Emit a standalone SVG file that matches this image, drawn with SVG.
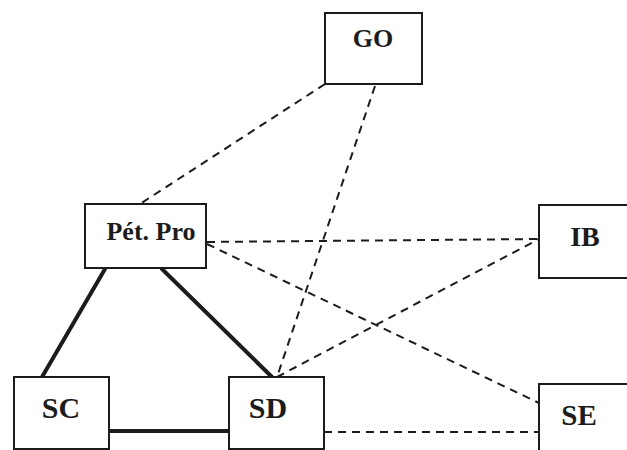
<svg xmlns="http://www.w3.org/2000/svg" width="627" height="450" viewBox="0 0 627 450">
  <style>
    .box { fill: #fff; stroke: #1c1c1c; stroke-width: 2; }
    .lbl { font-family: "Liberation Serif", "Times New Roman", serif; font-weight: bold; fill: #1c1c1c; text-anchor: middle; }
    .solid { stroke: #1c1c1c; stroke-width: 4; stroke-linecap: round; fill: none; }
    .dash { stroke: #1c1c1c; stroke-width: 2; stroke-dasharray: 8 6; fill: none; }
  </style>
  <rect width="627" height="450" fill="#fff"/>

  <g id="connectors">
    <line class="dash" x1="325" y1="84" x2="140" y2="204"/>
    <line class="dash" x1="375" y1="86" x2="277" y2="377"/>
    <line class="dash" x1="207" y1="242" x2="539" y2="239"/>
    <line class="dash" x1="207" y1="244" x2="539" y2="403"/>
    <line class="dash" x1="277" y1="377" x2="539" y2="239"/>
    <line class="dash" x1="324" y1="432" x2="539" y2="432"/>
    <line class="solid" x1="105" y1="269" x2="42" y2="377"/>
    <line class="solid" x1="162" y1="269" x2="272" y2="377"/>
    <line class="solid" x1="109" y1="431" x2="229" y2="431"/>
  </g>

  <g id="go">
    <rect class="box" x="325" y="13" width="97" height="71"/>
    <text class="lbl" x="373" y="47" font-size="26">GO</text>
  </g>
  <g id="petpro">
    <rect class="box" x="85" y="204" width="121" height="64"/>
    <text class="lbl" x="151" y="240" font-size="26">Pét. Pro</text>
  </g>
  <g id="ib">
    <rect class="box" x="539" y="205" width="100" height="73"/>
    <text class="lbl" x="585" y="246" font-size="28">IB</text>
  </g>
  <g id="sc">
    <rect class="box" x="14" y="377" width="95" height="72"/>
    <text class="lbl" x="61" y="418" font-size="30">SC</text>
  </g>
  <g id="sd">
    <rect class="box" x="229" y="377" width="95" height="72"/>
    <text class="lbl" x="268" y="418" font-size="30">SD</text>
  </g>
  <g id="se">
    <rect class="box" x="539" y="384" width="100" height="80"/>
    <text class="lbl" x="579" y="425" font-size="29">SE</text>
  </g>
</svg>
